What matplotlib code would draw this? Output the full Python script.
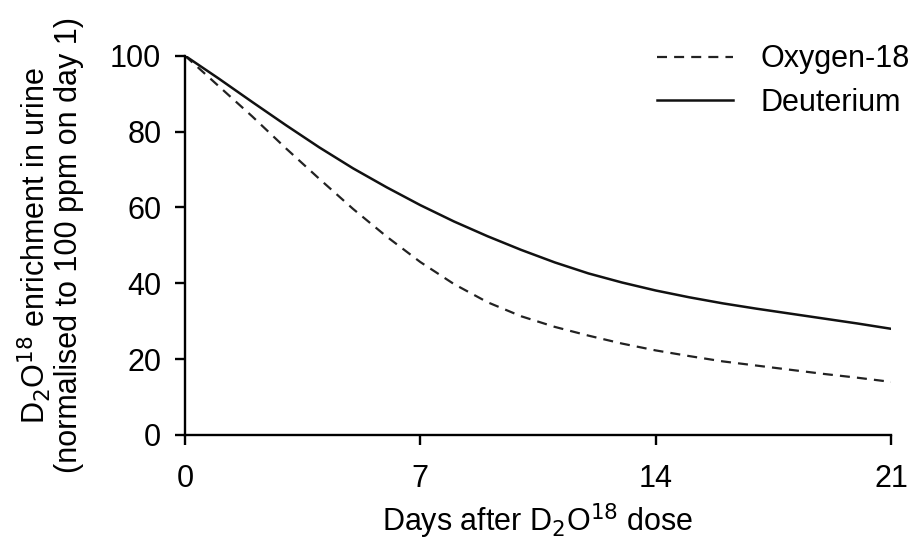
import matplotlib
matplotlib.use("Agg")
import matplotlib.pyplot as plt

days = [0, 1, 2, 3, 4, 5, 6, 7, 8, 9, 10, 11, 12, 13, 14, 15, 16, 17, 18, 19, 20, 21]
oxygen18 = [100, 92, 84, 75.6, 67.5, 59.6, 52.3, 45.6, 39.8, 35.0, 31.3, 28.5, 26.2,
            24.1, 22.3, 20.8, 19.4, 18.3, 17.2, 16.1, 15.1, 14.0]
deuterium = [100, 94, 87.8, 81.7, 75.8, 70.3, 65.3, 60.6, 56.3, 52.4, 48.8, 45.5, 42.6,
             40.2, 38.1, 36.3, 34.7, 33.3, 32.0, 30.7, 29.4, 28.0]
xticks = [0, 7, 14, 21]
yticks = [0, 20, 40, 60, 80, 100]

plt.rcParams.update({"font.family": ["Liberation Sans", "DejaVu Sans"], "font.size": 22})

fig = plt.figure(figsize=(9.13, 5.44), dpi=100)
ax = fig.add_axes([0.2026, 0.2004, 0.7733, 0.6972])

ax.plot(days, oxygen18, color="#222222", lw=1.6, dashes=(4.5, 3.2), label="Oxygen-18")
ax.plot(days, deuterium, color="#111111", lw=1.8, label="Deuterium")

ax.set_xlim(0, 21)
ax.set_ylim(0, 100)
ax.set_xticks(xticks)
ax.set_yticks(yticks)
for s in ["top", "right"]:
    ax.spines[s].set_visible(False)
for s in ["left", "bottom"]:
    ax.spines[s].set_linewidth(1.7)
ax.tick_params(direction="out", length=7, width=1.7, labelsize=22)
ax.tick_params(axis="x", pad=14)
ax.tick_params(axis="y", pad=10)

ax.set_xlabel("Days after D$_2$O$^{18}$ dose", fontsize=22, labelpad=5)
ax.set_ylabel("D$_2$O$^{18}$ enrichment in urine\n(normalised to 100 ppm on day 1)",
              fontsize=22, labelpad=19, linespacing=1.05)

ax.legend(loc="upper right", bbox_to_anchor=(1.02, 0.958), bbox_transform=fig.transFigure,
          frameon=False, fontsize=22, handlelength=2.5, handletextpad=0.9,
          labelspacing=0.45, borderaxespad=0.3)

fig.savefig("out.png", dpi=100)
